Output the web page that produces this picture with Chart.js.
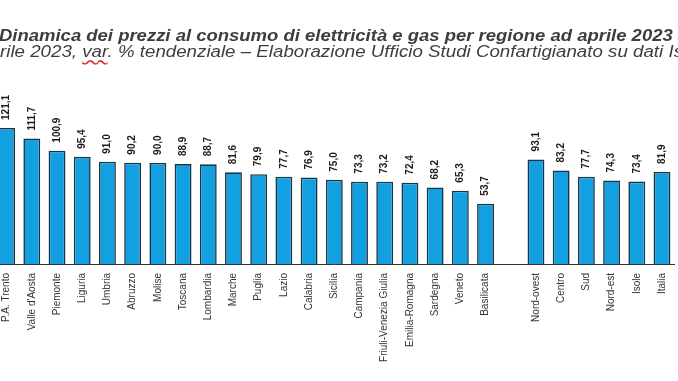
<!DOCTYPE html>
<html>
<head>
<meta charset="utf-8">
<script src="https://cdn.jsdelivr.net/npm/chart.js@4/dist/chart.umd.min.js"></script>
<style>
  html, body { margin: 0; padding: 0; background: #ffffff; overflow: hidden; width: 678px; height: 381px; }
  #wrap { position: absolute; left: -6px; top: 0; width: 689px; height: 381px; }
  .ttl { position: absolute; white-space: nowrap; font-family: "Liberation Sans", Arial, sans-serif; font-style: italic; color: #3d3d3d; font-size: 16px; line-height: 16px; transform-origin: 0 0; }
  #title { left: -1px; top: 28px; font-weight: bold; transform: scaleX(1.155); }
  #subtitle { left: 0px; top: 44px; font-weight: normal; transform: scaleX(1.17); }
  .sq { text-decoration: underline wavy #e03030; text-decoration-skip-ink: none; text-underline-offset: 2px; }
</style>
</head>
<body>
<div id="wrap"><canvas id="c"></canvas></div>
<div id="title" class="ttl">Dinamica dei prezzi al consumo di elettricità e gas per regione ad aprile 2023</div>
<div id="subtitle" class="ttl">rile 2023, <span class="sq">var</span>. % tendenziale – Elaborazione Ufficio Studi Confartigianato su dati Istat</div>
<script>
const categories = ["P.A. Trento", "Valle d'Aosta", "Piemonte", "Liguria", "Umbria", "Abruzzo", "Molise", "Toscana", "Lombardia", "Marche", "Puglia", "Lazio", "Calabria", "Sicilia", "Campania", "Friuli-Venezia Giulia", "Emilia-Romagna", "Sardegna", "Veneto", "Basilicata", "", "Nord-ovest", "Centro", "Sud", "Nord-est", "Isole", "Italia"];
const values = [121.1, 111.7, 100.9, 95.4, 91.0, 90.2, 90.0, 88.9, 88.7, 81.6, 79.9, 77.7, 76.9, 75.0, 73.3, 73.2, 72.4, 68.2, 65.3, 53.7, null, 93.1, 83.2, 77.7, 74.3, 73.4, 81.9];

const valueLabels = {
  id: 'valueLabels',
  afterDatasetsDraw(chart) {
    const ctx = chart.ctx;
    const meta = chart.getDatasetMeta(0);
    ctx.save();
    ctx.font = 'bold 10px "Liberation Sans", Arial, sans-serif';
    ctx.fillStyle = '#1a1a1a';
    ctx.textAlign = 'left';
    ctx.textBaseline = 'middle';
    meta.data.forEach((bar, i) => {
      const v = values[i];
      if (v === null || v === undefined) return;
      ctx.save();
      ctx.translate(bar.x, bar.y - 8);
      ctx.rotate(-Math.PI / 2);
      ctx.fillText(v.toFixed(1).replace('.', ','), 0, 0);
      ctx.restore();
    });
    ctx.restore();
  }
};

new Chart(document.getElementById('c'), {
  type: 'bar',
  data: {
    labels: categories,
    datasets: [{
      data: values,
      backgroundColor: '#13a0e0',
      borderColor: '#1b3444',
      borderWidth: 1.6,
      borderSkipped: 'start',
      barPercentage: 0.67,
      categoryPercentage: 1.0
    }]
  },
  options: {
    responsive: true,
    maintainAspectRatio: false,
    animation: false,
    devicePixelRatio: 1,
    layout: { padding: { top: 73, left: 0, right: 0, bottom: 0 } },
    plugins: { legend: { display: false }, tooltip: { enabled: false }, title: { display: false } },
    scales: {
      x: {
        grid: { display: false, drawTicks: false },
        border: { display: true, color: '#333333', width: 1 },
        ticks: {
          autoSkip: false,
          minRotation: 90,
          maxRotation: 90,
          padding: 9,
          color: '#333333',
          font: { family: '"Liberation Sans", Arial, sans-serif', size: 10 }
        },
        afterFit(scale) { scale.height = 117; }
      },
      y: {
        display: false,
        min: 0,
        max: 170
      }
    }
  },
  plugins: [valueLabels]
});
</script>
</body>
</html>
